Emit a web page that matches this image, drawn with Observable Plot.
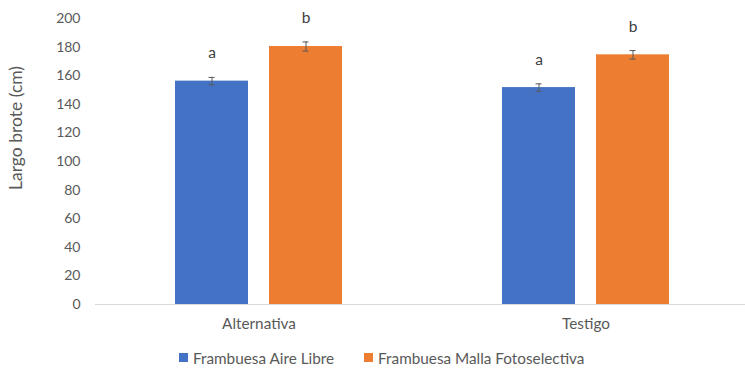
<!DOCTYPE html>
<html>
<head>
<meta charset="utf-8">
<script src="https://cdn.jsdelivr.net/npm/d3@7"></script>
<script src="https://cdn.jsdelivr.net/npm/@observablehq/plot@0.6"></script>
<style>
  body { margin: 0; background: #fff; font-family: Lato, "Open Sans", sans-serif; }
  #chart { width: 745px; }
  .legend { display: flex; align-items: center; height: 30px; padding-top: 5px; box-sizing: border-box; padding-left: 179px; font-size: 15.3px; color: #595959; }
  .legend .item { display: flex; align-items: center; margin-right: 30px; }
  .legend .sw { width: 9px; height: 9px; margin-right: 5px; }
</style>
</head>
<body>
<div id="chart"></div>
<script>
// Shoot length (cm) per treatment and raspberry growing condition
const categories = ["Alternativa", "Testigo"];
const series = ["Frambuesa Aire Libre", "Frambuesa Malla Fotoselectiva"];
const aireLibre = [156.2, 151.7];
const mallaFoto = [180.4, 174.6];
const errAireLibre = [2.6, 2.6];
const errMallaFoto = [3.2, 3.0];
const letrasAireLibre = ["a", "a"];
const letrasMallaFoto = ["b", "b"];
const yTicks = [0, 20, 40, 60, 80, 100, 120, 140, 160, 180, 200];
const colors = ["#4472C4", "#ED7D31"];

const dataAire = categories.map((c, i) => ({cat: c, value: aireLibre[i], err: errAireLibre[i], letra: letrasAireLibre[i]}));
const dataMalla = categories.map((c, i) => ({cat: c, value: mallaFoto[i], err: errMallaFoto[i], letra: letrasMallaFoto[i]}));

// each category band holds both bars; a bar takes one side of the band
const barW = 74, gap = 20, half = (barW + gap) / 2, capInset = (barW - 7) / 2;

function seriesMarks(data, color, side) {
  const dx = side * half;
  const barInset = side < 0 ? {insetLeft: 0, insetRight: barW + gap} : {insetLeft: barW + gap, insetRight: 0};
  const capInsets = side < 0
    ? {insetLeft: capInset, insetRight: barW + gap + capInset}
    : {insetLeft: barW + gap + capInset, insetRight: capInset};
  return [
    Plot.barY(data, {x: "cat", y: "value", fill: color, ...barInset}),
    Plot.ruleX(data, {x: "cat", y1: d => d.value - d.err, y2: d => d.value + d.err, dx, stroke: "#595959", strokeWidth: 1}),
    Plot.tickY(data, {x: "cat", y: d => d.value + d.err, stroke: "#595959", strokeWidth: 1, ...capInsets}),
    Plot.tickY(data, {x: "cat", y: d => d.value - d.err, stroke: "#595959", strokeWidth: 1, ...capInsets}),
    Plot.text(data, {x: "cat", y: d => d.value + d.err, text: "letra", dx, dy: -24, fontSize: 15.5, fill: "#404040"})
  ];
}

const plot = Plot.plot({
  width: 745,
  height: 340,
  marginTop: 18,
  marginBottom: 36,
  marginLeft: 100,
  marginRight: 0,
  style: {fontFamily: "Lato, 'Open Sans', sans-serif", fontSize: "14px", color: "#595959", background: "#fff"},
  x: {domain: categories, paddingInner: 0.4886, paddingOuter: 0.2298, label: null, tickSize: 0, tickPadding: 14},
  y: {domain: [0, 200], ticks: yTicks, tickSize: 0, tickPadding: 20, label: null, tickFormat: d => d},
  marks: [
    ...seriesMarks(dataAire, colors[0], -1),
    ...seriesMarks(dataMalla, colors[1], 1),
    Plot.ruleY([0], {stroke: "#d9d9d9", strokeWidth: 1, insetLeft: -5})
  ]
});

// larger category labels
d3.select(plot).selectAll("[aria-label='x-axis tick label'] text").style("font-size", "15.3px");

// rotated y-axis title
d3.select(plot).append("text")
  .attr("transform", "translate(22,128) rotate(-90)")
  .attr("text-anchor", "middle")
  .attr("fill", "#595959")
  .style("font-size", "17.5px")
  .text("Largo brote (cm)");

const chart = document.getElementById("chart");
chart.appendChild(plot);

const legend = document.createElement("div");
legend.className = "legend";
series.forEach((s, i) => {
  const item = document.createElement("div");
  item.className = "item";
  const sw = document.createElement("span");
  sw.className = "sw";
  sw.style.background = colors[i];
  const label = document.createElement("span");
  label.textContent = s;
  item.appendChild(sw);
  item.appendChild(label);
  legend.appendChild(item);
});
chart.appendChild(legend);
</script>
</body>
</html>
